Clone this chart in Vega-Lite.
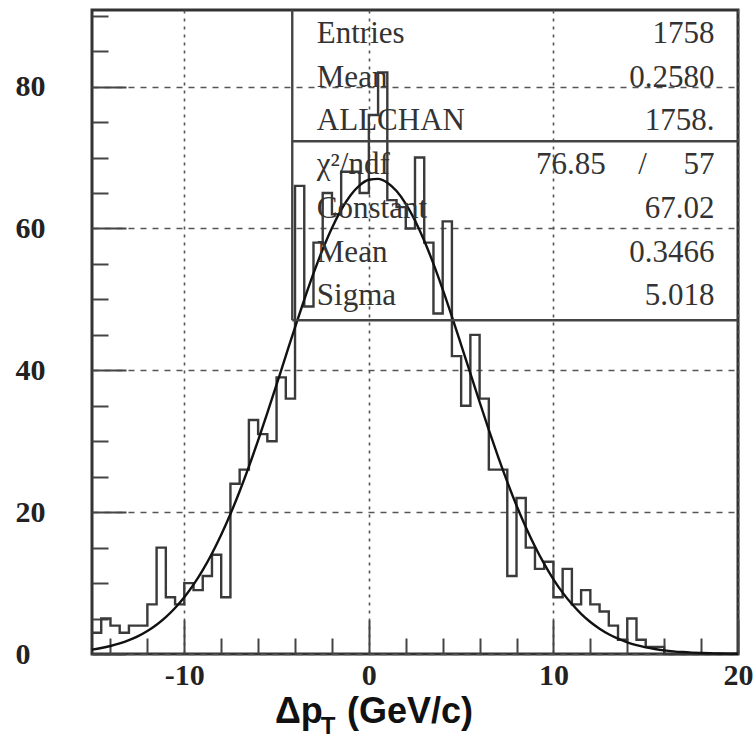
{
  "$schema": "https://vega.github.io/schema/vega-lite/v6.json",
  "width": 646,
  "height": 644,
  "autosize": "none",
  "padding": {"left": 92, "top": 10, "right": 16, "bottom": 90},
  "background": "white",
  "config": {
    "view": {"stroke": "#333", "strokeWidth": 3},
    "axis": {"domain": false, "title": null, "labelFont": "Liberation Serif", "labelFontSize": 30, "labelFontWeight": "bold", "labelColor": "#222", "tickColor": "#444", "tickWidth": 2, "gridColor": "#555", "gridWidth": 1.6, "labelOverlap": false, "labelFlush": false, "labelBound": false}
  },
  "resolve": {"scale": {"y": "independent"}},
  "layer": [
    {
      "resolve": {"axis": {"x": "independent", "y": "independent"}},
      "layer": [
        {
          "data": {"values": [
            {"lo": -15, "n": 3}, {"lo": -14.5, "n": 5}, {"lo": -14, "n": 4}, {"lo": -13.5, "n": 3}, {"lo": -13, "n": 4},
            {"lo": -12.5, "n": 4}, {"lo": -12, "n": 7}, {"lo": -11.5, "n": 15}, {"lo": -11, "n": 8}, {"lo": -10.5, "n": 7},
            {"lo": -10, "n": 10}, {"lo": -9.5, "n": 9}, {"lo": -9, "n": 11}, {"lo": -8.5, "n": 14}, {"lo": -8, "n": 8},
            {"lo": -7.5, "n": 24}, {"lo": -7, "n": 26}, {"lo": -6.5, "n": 33}, {"lo": -6, "n": 31}, {"lo": -5.5, "n": 30},
            {"lo": -5, "n": 39}, {"lo": -4.5, "n": 36}, {"lo": -4, "n": 66}, {"lo": -3.5, "n": 49}, {"lo": -3, "n": 58},
            {"lo": -2.5, "n": 65}, {"lo": -2, "n": 62}, {"lo": -1.5, "n": 68}, {"lo": -1, "n": 68}, {"lo": -0.5, "n": 65},
            {"lo": 0, "n": 76}, {"lo": 0.5, "n": 82}, {"lo": 1, "n": 64}, {"lo": 1.5, "n": 63}, {"lo": 2, "n": 60},
            {"lo": 2.5, "n": 70}, {"lo": 3, "n": 58}, {"lo": 3.5, "n": 48}, {"lo": 4, "n": 61}, {"lo": 4.5, "n": 42},
            {"lo": 5, "n": 35}, {"lo": 5.5, "n": 45}, {"lo": 6, "n": 36}, {"lo": 6.5, "n": 26}, {"lo": 7, "n": 26},
            {"lo": 7.5, "n": 11}, {"lo": 8, "n": 22}, {"lo": 8.5, "n": 15}, {"lo": 9, "n": 12}, {"lo": 9.5, "n": 13},
            {"lo": 10, "n": 8}, {"lo": 10.5, "n": 12}, {"lo": 11, "n": 7}, {"lo": 11.5, "n": 9}, {"lo": 12, "n": 7},
            {"lo": 12.5, "n": 6}, {"lo": 13, "n": 4}, {"lo": 13.5, "n": 2}, {"lo": 14, "n": 5}, {"lo": 14.5, "n": 2},
            {"lo": 15, "n": 1}, {"lo": 15.5, "n": 1}, {"lo": 16, "n": 0}, {"lo": 16.5, "n": 0}, {"lo": 17, "n": 0},
            {"lo": 17.5, "n": 0}, {"lo": 18, "n": 0}, {"lo": 18.5, "n": 0}, {"lo": 19, "n": 0}, {"lo": 19.5, "n": 0},
            {"lo": 20, "n": 0}
          ]},
          "mark": {"type": "line", "interpolate": "step-after", "color": "#3a3a3a", "strokeWidth": 2.4, "strokeJoin": "miter"},
          "encoding": {
            "x": {"field": "lo", "type": "quantitative", "scale": {"domain": [-15, 20], "nice": false, "zero": false},
              "axis": {"orient": "bottom", "values": [-10, 0, 10, 20], "tickSize": -34,
                "labelExpr": "datum.value < 0 ? datum.value + '\u00a0\u00a0' : '' + datum.value", "labelOverlap": false,
                "labelPadding": 40, "labelBaseline": "top", "labelAlign": "center",
                "grid": true, "gridDash": [3, 5]}},
            "y": {"field": "n", "type": "quantitative", "scale": {"domain": [0, 90.8], "nice": false, "zero": false},
              "axis": {"orient": "left", "values": [0, 20, 40, 60, 80], "tickSize": -34,
                "labelExpr": "'' + datum.value", "labelOverlap": false,
                "labelPadding": 111, "labelBaseline": "middle", "labelAlign": "left",
                "grid": true, "gridDash": [6, 6]}}
          }
        },
        {
          "data": {"values": [
            {"x": -15, "f": 0.624}, {"x": -14.5, "f": 0.842}, {"x": -14, "f": 1.125}, {"x": -13.5, "f": 1.489}, {"x": -13, "f": 1.950},
            {"x": -12.5, "f": 2.529}, {"x": -12, "f": 3.248}, {"x": -11.5, "f": 4.129}, {"x": -11, "f": 5.198}, {"x": -10.5, "f": 6.483},
            {"x": -10, "f": 7.998}, {"x": -9.5, "f": 9.775}, {"x": -9, "f": 11.826}, {"x": -8.5, "f": 14.166}, {"x": -8, "f": 16.805},
            {"x": -7.5, "f": 19.735}, {"x": -7, "f": 22.950}, {"x": -6.5, "f": 26.422}, {"x": -6, "f": 30.120}, {"x": -5.5, "f": 33.995},
            {"x": -5, "f": 37.992}, {"x": -4.5, "f": 42.036}, {"x": -4, "f": 46.055}, {"x": -3.5, "f": 49.961}, {"x": -3, "f": 53.657},
            {"x": -2.5, "f": 57.060}, {"x": -2, "f": 60.079}, {"x": -1.5, "f": 62.632}, {"x": -1, "f": 64.650}, {"x": -0.5, "f": 66.073},
            {"x": 0, "f": 66.860}, {"x": 0.5, "f": 66.989}, {"x": 1, "f": 66.454}, {"x": 1.5, "f": 65.273}, {"x": 2, "f": 63.479},
            {"x": 2.5, "f": 61.124}, {"x": 3, "f": 58.276}, {"x": 3.5, "f": 55.011}, {"x": 4, "f": 51.415}, {"x": 4.5, "f": 47.582},
            {"x": 5, "f": 43.598}, {"x": 5.5, "f": 39.555}, {"x": 6, "f": 35.531}, {"x": 6.5, "f": 31.599}, {"x": 7, "f": 27.826},
            {"x": 7.5, "f": 24.261}, {"x": 8, "f": 20.945}, {"x": 8.5, "f": 17.903}, {"x": 9, "f": 15.151}, {"x": 9.5, "f": 12.699},
            {"x": 10, "f": 10.534}, {"x": 10.5, "f": 8.653}, {"x": 11, "f": 7.038}, {"x": 11.5, "f": 5.668}, {"x": 12, "f": 4.518},
            {"x": 12.5, "f": 3.568}, {"x": 13, "f": 2.788}, {"x": 13.5, "f": 2.159}, {"x": 14, "f": 1.655}, {"x": 14.5, "f": 1.255},
            {"x": 15, "f": 0.943}, {"x": 15.5, "f": 0.702}, {"x": 16, "f": 0.517}, {"x": 16.5, "f": 0.377}, {"x": 17, "f": 0.272},
            {"x": 17.5, "f": 0.194}, {"x": 18, "f": 0.138}, {"x": 18.5, "f": 0.096}, {"x": 19, "f": 0.067}, {"x": 19.5, "f": 0.046},
            {"x": 20, "f": 0.031}
          ]},
          "mark": {"type": "line", "interpolate": "monotone", "color": "#111", "strokeWidth": 2.4},
          "encoding": {
            "x": {"field": "x", "type": "quantitative", "scale": {"domain": [-15, 20], "nice": false, "zero": false},
              "axis": {"orient": "bottom", "values": [-14, -12, -8, -6, -4, -2, 2, 4, 6, 8, 12, 14, 16, 18], "tickSize": -16, "labels": false, "grid": false}},
            "y": {"field": "f", "type": "quantitative", "scale": {"domain": [0, 90.8], "nice": false, "zero": false},
              "axis": {"orient": "left", "values": [5, 10, 15, 25, 30, 35, 45, 50, 55, 65, 70, 75, 85, 90], "tickSize": -16, "labels": false, "grid": false}}
          }
        },
        {
          "data": {"values": [{}]},
          "mark": {"type": "rule", "color": "#444", "strokeWidth": 2.4},
          "encoding": {
            "x": {"datum": -4.15, "type": "quantitative", "scale": {"domain": [-15, 20], "nice": false, "zero": false}, "axis": null},
            "y": {"datum": 47.06, "type": "quantitative", "scale": {"domain": [0, 90.8], "nice": false, "zero": false}, "axis": null},
            "y2": {"datum": 90.8}
          }
        },
        {
          "data": {"values": [{}]},
          "mark": {"type": "rule", "color": "#444", "strokeWidth": 2.4},
          "encoding": {
            "x": {"datum": -4.15, "type": "quantitative", "scale": {"domain": [-15, 20], "nice": false, "zero": false}, "axis": null},
            "x2": {"datum": 20},
            "y": {"datum": 47.06, "type": "quantitative", "scale": {"domain": [0, 90.8], "nice": false, "zero": false}, "axis": null}
          }
        },
        {
          "data": {"values": [{}]},
          "mark": {"type": "rule", "color": "#444", "strokeWidth": 2.4},
          "encoding": {
            "x": {"datum": -4.15, "type": "quantitative", "scale": {"domain": [-15, 20], "nice": false, "zero": false}, "axis": null},
            "x2": {"datum": 20},
            "y": {"datum": 72.3, "type": "quantitative", "scale": {"domain": [0, 90.8], "nice": false, "zero": false}, "axis": null}
          }
        },
        {
          "data": {"values": [{}]},
          "mark": {"type": "text", "text": "Δp", "font": "Liberation Sans", "fontWeight": "bold", "fontSize": 36, "align": "left", "baseline": "alphabetic", "color": "#111"},
          "encoding": {
            "x": {"datum": -5.09, "type": "quantitative", "scale": {"domain": [-15, 20], "nice": false, "zero": false}, "axis": null},
            "y": {"datum": -9.68, "type": "quantitative", "scale": {"domain": [0, 90.8], "nice": false, "zero": false}, "axis": null}
          }
        },
        {
          "data": {"values": [{}]},
          "mark": {"type": "text", "text": "T", "font": "Liberation Sans", "fontWeight": "bold", "fontSize": 24, "align": "left", "baseline": "alphabetic", "color": "#111"},
          "encoding": {
            "x": {"datum": -2.6, "type": "quantitative", "scale": {"domain": [-15, 20], "nice": false, "zero": false}, "axis": null},
            "y": {"datum": -11.24, "type": "quantitative", "scale": {"domain": [0, 90.8], "nice": false, "zero": false}, "axis": null}
          }
        },
        {
          "data": {"values": [{}]},
          "mark": {"type": "text", "text": "(GeV/c)", "font": "Liberation Sans", "fontWeight": "bold", "fontSize": 36, "align": "left", "baseline": "alphabetic", "color": "#111"},
          "encoding": {
            "x": {"datum": -1.19, "type": "quantitative", "scale": {"domain": [-15, 20], "nice": false, "zero": false}, "axis": null},
            "y": {"datum": -9.68, "type": "quantitative", "scale": {"domain": [0, 90.8], "nice": false, "zero": false}, "axis": null}
          }
        }
      ]
    },
    {
      "data": {"values": [
        {"row": 1, "label": "Entries", "value": "1758"},
        {"row": 2, "label": "Mean", "value": "0.2580"},
        {"row": 3, "label": "ALLCHAN", "value": "1758."},
        {"row": 4, "label": "χ²/ndf", "value": "57", "chi": "76.85", "slash": "/"},
        {"row": 5, "label": "Constant", "value": "67.02"},
        {"row": 6, "label": "Mean", "value": "0.3466"},
        {"row": 7, "label": "Sigma", "value": "5.018"}
      ]},
      "encoding": {
        "y": {"field": "row", "type": "quantitative", "scale": {"domain": [0.245, 14.98], "reverse": true, "nice": false, "zero": false}, "axis": null}
      },
      "layer": [
        {
          "mark": {"type": "text", "align": "left", "baseline": "alphabetic", "font": "Liberation Serif", "fontSize": 31, "color": "#333"},
          "encoding": {
            "x": {"datum": -2.82, "type": "quantitative", "scale": {"domain": [-15, 20], "nice": false, "zero": false}, "axis": null},
            "text": {"field": "label"}
          }
        },
        {
          "mark": {"type": "text", "align": "right", "baseline": "alphabetic", "font": "Liberation Serif", "fontSize": 31, "color": "#333"},
          "encoding": {
            "x": {"datum": 18.73, "type": "quantitative", "scale": {"domain": [-15, 20], "nice": false, "zero": false}, "axis": null},
            "text": {"field": "value"}
          }
        },
        {
          "transform": [{"filter": "datum.chi"}],
          "mark": {"type": "text", "align": "right", "baseline": "alphabetic", "font": "Liberation Serif", "fontSize": 31, "color": "#333"},
          "encoding": {
            "x": {"datum": 12.83, "type": "quantitative", "scale": {"domain": [-15, 20], "nice": false, "zero": false}, "axis": null},
            "text": {"field": "chi"}
          }
        },
        {
          "transform": [{"filter": "datum.slash"}],
          "mark": {"type": "text", "align": "center", "baseline": "alphabetic", "font": "Liberation Serif", "fontSize": 31, "color": "#333"},
          "encoding": {
            "x": {"datum": 14.83, "type": "quantitative", "scale": {"domain": [-15, 20], "nice": false, "zero": false}, "axis": null},
            "text": {"field": "slash"}
          }
        }
      ]
    }
  ]
}
